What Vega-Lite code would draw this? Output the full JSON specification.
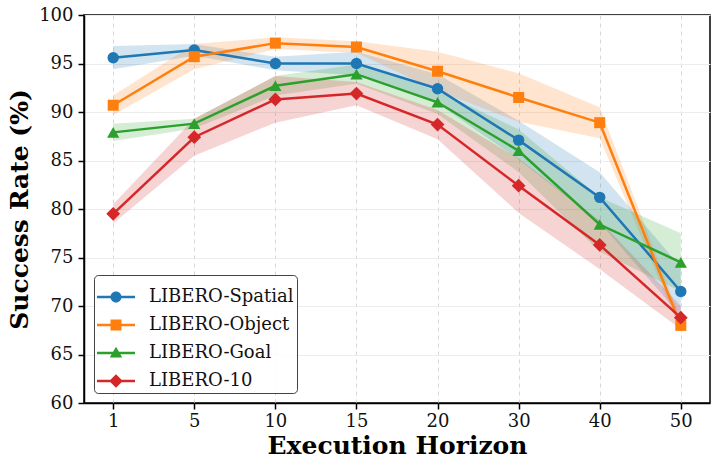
{
  "$schema": "https://vega.github.io/schema/vega-lite/v6.json",
  "width": 626,
  "height": 388,
  "autosize": {"type": "none"},
  "padding": {"left": 84, "top": 15, "right": 8, "bottom": 57},
  "background": "white",
  "config": {
    "view": {"stroke": "black", "strokeWidth": 1.5},
    "axis": {
      "labelFont": "DejaVu Serif",
      "labelFontSize": 18,
      "labelColor": "#111",
      "titleFont": "DejaVu Serif",
      "titleFontSize": 25,
      "titleFontWeight": "bold",
      "titleColor": "#000",
      "domainColor": "black",
      "domainWidth": 1.5,
      "tickColor": "black",
      "tickWidth": 1.5,
      "tickSize": 6
    },
    "legend": {
      "labelFont": "DejaVu Serif",
      "labelFontSize": 18,
      "labelColor": "#111"
    }
  },
  "data": {
    "values": [
      {"series": "LIBERO-Spatial", "h": 1, "rate": 95.6, "lo": 94.4, "hi": 96.8},
      {"series": "LIBERO-Spatial", "h": 5, "rate": 96.4, "lo": 95.8, "hi": 97.0},
      {"series": "LIBERO-Spatial", "h": 10, "rate": 95.0, "lo": 94.3, "hi": 95.7},
      {"series": "LIBERO-Spatial", "h": 15, "rate": 95.0, "lo": 93.8, "hi": 96.2},
      {"series": "LIBERO-Spatial", "h": 20, "rate": 92.4, "lo": 90.9, "hi": 93.9},
      {"series": "LIBERO-Spatial", "h": 30, "rate": 87.1, "lo": 85.1, "hi": 89.1},
      {"series": "LIBERO-Spatial", "h": 40, "rate": 81.2, "lo": 78.6, "hi": 83.8},
      {"series": "LIBERO-Spatial", "h": 50, "rate": 71.5, "lo": 69.0, "hi": 74.0},
      {"series": "LIBERO-Object", "h": 1, "rate": 90.7, "lo": 89.7, "hi": 91.7},
      {"series": "LIBERO-Object", "h": 5, "rate": 95.7, "lo": 94.4, "hi": 97.0},
      {"series": "LIBERO-Object", "h": 10, "rate": 97.1, "lo": 96.5, "hi": 97.7},
      {"series": "LIBERO-Object", "h": 15, "rate": 96.7, "lo": 96.1, "hi": 97.3},
      {"series": "LIBERO-Object", "h": 20, "rate": 94.2, "lo": 92.2, "hi": 96.2},
      {"series": "LIBERO-Object", "h": 30, "rate": 91.5, "lo": 89.0, "hi": 94.0},
      {"series": "LIBERO-Object", "h": 40, "rate": 88.9, "lo": 87.3, "hi": 90.5},
      {"series": "LIBERO-Object", "h": 50, "rate": 68.0, "lo": 67.4, "hi": 68.6},
      {"series": "LIBERO-Goal", "h": 1, "rate": 87.9, "lo": 87.0, "hi": 88.8},
      {"series": "LIBERO-Goal", "h": 5, "rate": 88.8, "lo": 88.3, "hi": 89.3},
      {"series": "LIBERO-Goal", "h": 10, "rate": 92.7, "lo": 91.7, "hi": 93.7},
      {"series": "LIBERO-Goal", "h": 15, "rate": 93.9, "lo": 92.9, "hi": 94.9},
      {"series": "LIBERO-Goal", "h": 20, "rate": 91.0, "lo": 89.8, "hi": 92.2},
      {"series": "LIBERO-Goal", "h": 30, "rate": 86.0, "lo": 83.8, "hi": 88.2},
      {"series": "LIBERO-Goal", "h": 40, "rate": 78.4, "lo": 75.6, "hi": 81.2},
      {"series": "LIBERO-Goal", "h": 50, "rate": 74.5, "lo": 71.5, "hi": 77.5},
      {"series": "LIBERO-10", "h": 1, "rate": 79.5, "lo": 78.5, "hi": 80.5},
      {"series": "LIBERO-10", "h": 5, "rate": 87.4, "lo": 85.5, "hi": 89.3},
      {"series": "LIBERO-10", "h": 10, "rate": 91.3, "lo": 88.9, "hi": 93.7},
      {"series": "LIBERO-10", "h": 15, "rate": 91.9, "lo": 90.7, "hi": 93.1},
      {"series": "LIBERO-10", "h": 20, "rate": 88.7, "lo": 87.2, "hi": 90.2},
      {"series": "LIBERO-10", "h": 30, "rate": 82.4, "lo": 79.6, "hi": 85.2},
      {"series": "LIBERO-10", "h": 40, "rate": 76.3, "lo": 73.8, "hi": 78.8},
      {"series": "LIBERO-10", "h": 50, "rate": 68.8, "lo": 67.6, "hi": 70.0}
    ]
  },
  "encoding": {
    "x": {
      "field": "h",
      "type": "ordinal",
      "scale": {"type": "point", "domain": [1, 5, 10, 15, 20, 30, 40, 50], "padding": 0.36},
      "axis": {
        "title": "Execution Horizon",
        "labelAngle": 0,
        "labelPadding": 3,
        "titlePadding": 3,
        "grid": true,
        "gridColor": "#d6d6d6",
        "gridDash": [4, 4],
        "gridWidth": 1
      }
    },
    "color": {
      "field": "series",
      "type": "nominal",
      "scale": {
        "domain": ["LIBERO-Spatial", "LIBERO-Object", "LIBERO-Goal", "LIBERO-10"],
        "range": ["#1f77b4", "#ff7f0e", "#2ca02c", "#d62728"]
      },
      "legend": {
        "title": null,
        "orient": "bottom-left",
        "offset": 10,
        "padding": 3,
        "strokeColor": "#444",
        "cornerRadius": 4,
        "fillColor": "rgba(255,255,255,0.85)",
        "symbolSize": 1444,
        "symbolStrokeWidth": 0,
        "symbolOpacity": 1,
        "labelOffset": 14,
        "rowPadding": 0,
        "encode": {"symbols": {"update": {"opacity": {"value": 1}}}}
      }
    }
  },
  "layer": [
    {
      "mark": {"type": "area", "opacity": 0.2},
      "encoding": {
        "y": {
          "field": "lo",
          "type": "quantitative",
          "scale": {"domain": [60, 100], "nice": false, "zero": false},
          "axis": {
            "title": "Success Rate (%)",
            "values": [60, 65, 70, 75, 80, 85, 90, 95, 100],
            "labelPadding": 5,
            "titlePadding": 6,
            "grid": true,
            "gridColor": "#ececec",
            "gridWidth": 1
          }
        },
        "y2": {"field": "hi"},
        "detail": {"field": "series"}
      }
    },
    {
      "mark": {"type": "line", "strokeWidth": 2.5},
      "encoding": {"y": {"field": "rate", "type": "quantitative"}}
    },
    {
      "transform": [{"filter": "datum.series === 'LIBERO-Spatial'"}],
      "mark": {"type": "point", "shape": "circle", "filled": true, "opacity": 1, "size": 130},
      "encoding": {"y": {"field": "rate", "type": "quantitative"}}
    },
    {
      "transform": [{"filter": "datum.series === 'LIBERO-Object'"}],
      "mark": {"type": "point", "shape": "square", "filled": true, "opacity": 1, "size": 121},
      "encoding": {"y": {"field": "rate", "type": "quantitative"}}
    },
    {
      "transform": [{"filter": "datum.series === 'LIBERO-Goal'"}],
      "mark": {"type": "point", "shape": "triangle-up", "filled": true, "opacity": 1, "size": 150},
      "encoding": {"y": {"field": "rate", "type": "quantitative"}}
    },
    {
      "transform": [{"filter": "datum.series === 'LIBERO-10'"}],
      "mark": {"type": "point", "shape": "diamond", "filled": true, "opacity": 1, "size": 190},
      "encoding": {"y": {"field": "rate", "type": "quantitative"}}
    },
    {
      "mark": {"type": "point", "filled": true, "opacity": 0, "size": 1444},
      "encoding": {
        "y": {"field": "rate", "type": "quantitative"},
        "shape": {
          "field": "series",
          "type": "nominal",
          "scale": {
            "domain": ["LIBERO-Spatial", "LIBERO-Object", "LIBERO-Goal", "LIBERO-10"],
            "range": [
              "M-1,-0.066H1V0.066H-1Z M0.29,0A0.29,0.29 0 1,1 -0.29,0A0.29,0.29 0 1,1 0.29,0Z",
              "M-1,-0.066H1V0.066H-1Z M-0.29,-0.29H0.29V0.29H-0.29Z",
              "M-1,-0.066H1V0.066H-1Z M0,-0.33L0.33,0.24L-0.33,0.24Z",
              "M-1,-0.066H1V0.066H-1Z M0,-0.36L0.36,0L0,0.36L-0.36,0Z"
            ]
          },
          "legend": {"title": null}
        }
      }
    }
  ]
}
